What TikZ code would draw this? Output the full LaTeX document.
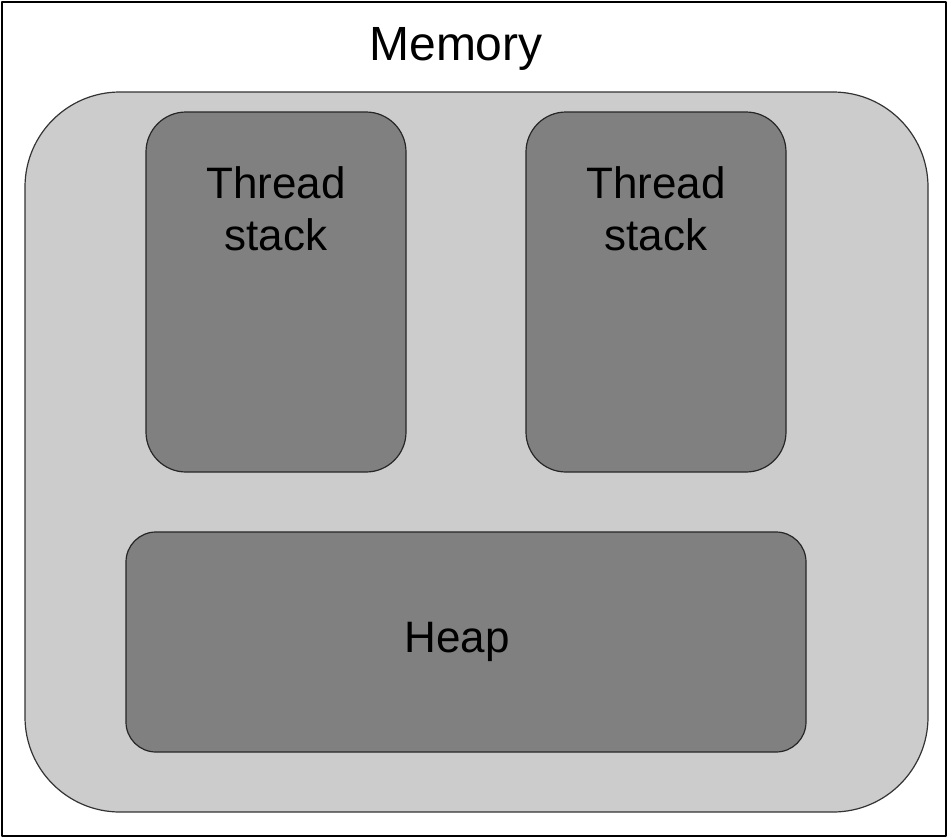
\documentclass[tikz,border=0pt]{standalone}
\usepackage{fontspec}
\setmainfont{Liberation Sans}
\usepackage{tikz}
\usetikzlibrary{positioning}

\begin{document}
\begin{tikzpicture}[line cap=round,line join=round,x=1.0pt,y=-1.0pt,
    outerbox/.style={draw=black!80,line width=1.2pt,fill=black!20,rounded corners=95pt,
      minimum width=903pt,minimum height=720pt,inner sep=0pt},
    stackbox/.style={draw=black!85,line width=1.2pt,fill=black!50,rounded corners=40pt,
      minimum width=260pt,minimum height=360pt,inner sep=0pt},
    heapbox/.style={draw=black!85,line width=1.2pt,fill=black!50,rounded corners=30pt,
      minimum width=680pt,minimum height=220pt,inner sep=0pt},
    lbl/.style={font=\fontsize{44}{52}\selectfont,align=center,text=black}]
      \useasboundingbox (0,0) rectangle (948,838);
      \draw[line width=2.5pt,color=black] (2,2) rectangle (946,836);
      \node[lbl,font=\fontsize{48}{56}\selectfont] (memory) at (456,49) {Memory};
      \node[outerbox] (mem) at (476.5,452) {};
      \node[stackbox] (stackA) at (276,292) {};
      \node[stackbox] (stackB) at (656,292) {};
      \node[heapbox] (heap) at (466,642) {};
      \node[lbl,anchor=north,below=52pt of stackA.north] (txtA) {Thread\\stack};
      \node[lbl,anchor=north,below=52pt of stackB.north] (txtB) {Thread\\stack};
      \node[lbl] (txtH) at (457,642) {Heap};
\end{tikzpicture}
\end{document}
